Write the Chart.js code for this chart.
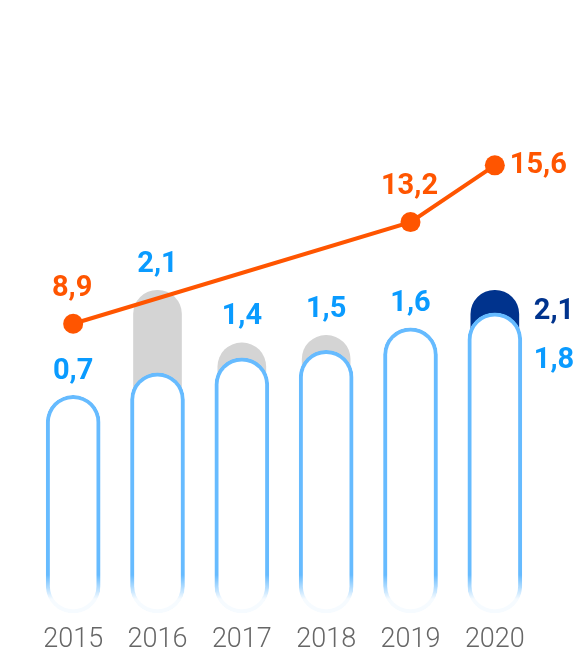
<!DOCTYPE html>
<html>
<head>
<meta charset="utf-8">
<script src="https://cdn.jsdelivr.net/npm/chart.js@4.4.0/dist/chart.umd.min.js"></script>
<style>
  html, body { margin: 0; padding: 0; background: #fff; }
  #box { width: 577px; height: 650px; }
</style>
</head>
<body>
<div id="box"><canvas id="myChart"></canvas></div>
<script>
// data
const years = ['2015', '2016', '2017', '2018', '2019', '2020'];
const lineValues = [8.9, null, null, null, 13.2, 15.6];
const lightValues = [0.7, 1.0, 1.2, 1.3, 1.6, 1.8];
const backValues = [null, 2.1, 1.4, 1.5, null, 2.1];

// colours
const orange = '#ff5500';
const blueText = '#0a9bff';
const blueLine = '#66bbff';
const grey = '#d4d4d4';
const navy = '#00338d';

function fmt(v) {
  return v.toFixed(1).replace('.', ',');
}

// outline fades out towards the bottom of the bar
function fadingBorder(ctx) {
  const area = ctx.chart.chartArea;
  if (!area) return blueLine;
  const g = ctx.chart.ctx.createLinearGradient(0, area.bottom - 38, 0, area.bottom - 14);
  g.addColorStop(0, blueLine);
  g.addColorStop(1, 'rgba(102,187,255,0.06)');
  return g;
}

//value labels
const valueLabels = {
  id: 'valueLabels',
  afterDatasetsDraw(chart) {
    const c = chart.ctx;
    const last = years.length - 1;
    c.save();
    c.font = '700 29px Roboto';
    c.textBaseline = 'middle';

    chart.getDatasetMeta(0).data.forEach(function (pt, i) {
      const v = lineValues[i];
      if (v == null) return;
      c.fillStyle = orange;
      if (i === last) {
        c.textAlign = 'left';
        c.fillText(fmt(v), pt.x + 15, pt.y);
      } else {
        c.textAlign = 'center';
        c.fillText(fmt(v), pt.x - 1, pt.y - 35);
      }
    });

    chart.getDatasetMeta(1).data.forEach(function (bar, i) {
      if (backValues[i] != null && i !== last) return;
      c.fillStyle = blueText;
      if (i === last) {
        c.textAlign = 'left';
        c.fillText(fmt(lightValues[i]), bar.x + 39, bar.y + 48);
      } else {
        c.textAlign = 'center';
        c.fillText(fmt(lightValues[i]), bar.x, bar.y - 24);
      }
    });

    chart.getDatasetMeta(2).data.forEach(function (bar, i) {
      if (backValues[i] == null) return;
      if (i === last) {
        c.fillStyle = navy;
        c.textAlign = 'left';
        c.fillText(fmt(backValues[i]), bar.x + 39, bar.y + 21);
      } else {
        c.fillStyle = blueText;
        c.textAlign = 'center';
        c.fillText(fmt(backValues[i]), bar.x, bar.y - 26);
      }
    });
    c.restore();
  }
};

const ctx = document.getElementById('myChart');

new Chart(ctx, {
  data: {
    labels: years,
    datasets: [
      {
        type: 'line',
        data: lineValues,
        yAxisID: 'y2',
        order: 0,
        spanGaps: true,
        borderColor: orange,
        backgroundColor: orange,
        borderWidth: 4,
        pointRadius: 10,
        pointHoverRadius: 10,
        pointBorderWidth: 0,
        tension: 0
      },
      {
        type: 'bar',
        data: lightValues,
        yAxisID: 'y',
        order: 1,
        grouped: false,
        base: -2.2,
        barThickness: 54,
        backgroundColor: '#ffffff',
        borderColor: fadingBorder,
        borderWidth: 4,
        borderRadius: 40,
        borderSkipped: false
      },
      {
        type: 'bar',
        data: backValues,
        yAxisID: 'y',
        order: 2,
        grouped: false,
        base: 0,
        barThickness: 48,
        backgroundColor: function (c) { return c.dataIndex === years.length - 1 ? navy : grey; },
        borderWidth: 0,
        borderRadius: 40,
        borderSkipped: false
      }
    ]
  },
  options: {
    responsive: true,
    maintainAspectRatio: false,
    animation: false,
    // the x axis counts its tick padding twice, hence the negative bottom
    layout: { autoPadding: false, padding: { left: 31, right: 40, top: 0, bottom: -18 } },
    plugins: {
      legend: { display: false },
      tooltip: { enabled: false }
    },
    scales: {
      x: {
        grid: { display: false, drawTicks: false },
        border: { display: false },
        ticks: {
          color: '#666666',
          padding: 14,
          font: { family: 'Roboto', size: 27, weight: 300, lineHeight: 1 }
        }
      },
      y: { display: false, min: -2.2, max: 5.97 },
      y2: { display: false, min: -3.33, max: 22.59 }
    }
  },
  plugins: [valueLabels]
});
</script>
</body>
</html>
